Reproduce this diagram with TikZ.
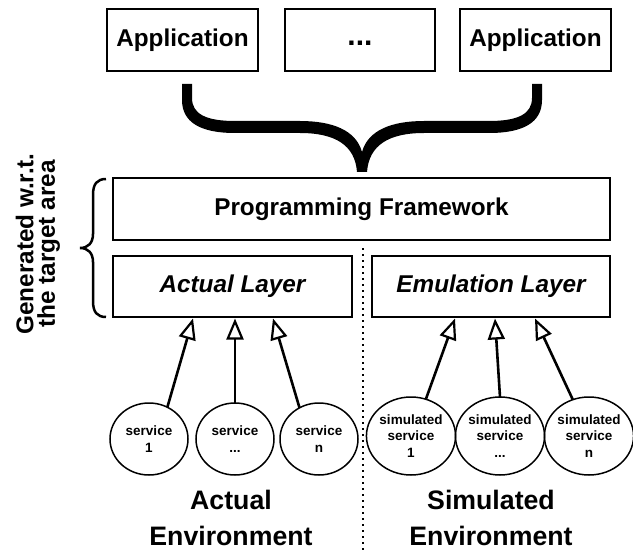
\documentclass[tikz,border=0pt]{standalone}
\usepackage{fontspec}
\setmainfont{Liberation Sans}
\usetikzlibrary{shapes.geometric,arrows.meta}
\begin{document}
\begin{tikzpicture}[x=1pt,y=-1pt,
  box/.style={draw,line width=2pt,rectangle,inner sep=0pt,outer sep=0pt,font=\fontsize{24.3}{28}\selectfont\bfseries},
  svc/.style={draw,ellipse,line width=1.5pt,inner sep=0pt,outer sep=0pt,align=center,font=\fontsize{13.5}{16.5}\selectfont\bfseries},
  svcA/.style={svc,minimum width=78pt,minimum height=72pt},
  svcS/.style={svc,minimum width=88pt,minimum height=78pt},
  arr/.style={line width=2.6pt,-{Triangle[open,length=21pt,width=17pt,line width=2.2pt]}},
  envlabel/.style={align=center,inner sep=0pt,font=\fontsize{26.7}{35.5}\selectfont\bfseries},
  sidelabel/.style={rotate=90,align=center,inner sep=0pt,font=\fontsize{24.3}{21.5}\selectfont\bfseries}]
\useasboundingbox (0,0) rectangle (633,551);

% top application boxes
\node[box,minimum width=151pt,minimum height=62pt] (app1) at (182.5,40) {Application};
\node[box,minimum width=150pt,minimum height=62pt] (dots) at (360,40) {\vphantom{Ap}\fontsize{30}{30}\selectfont ...};
\node[box,minimum width=151pt,minimum height=62pt] (app2) at (535.5,40) {Application};

% framework and layers
\node[box,minimum width=497pt,minimum height=62pt] (pf) at (361.5,209) {Programming Framework};
\node[box,minimum width=239pt,minimum height=61pt] (al) at (232.5,286.5) {\itshape Actual Layer};
\node[box,minimum width=238pt,minimum height=61pt] (el) at (491,286.5) {\itshape Emulation Layer};

% big brace
\fill (182,84) -- (182,100) .. controls (182,122) and (200,133) .. (235,133) -- (300,133)
  .. controls (335,133) and (355,145) .. (357,172) -- (367,172)
  .. controls (369,145) and (389,133) .. (424,133) -- (489,133)
  .. controls (524,133) and (542,122) .. (542,100) -- (542,84) -- (532,84) -- (532,98)
  .. controls (532,114) and (518,121) .. (489,121) -- (424,121)
  .. controls (392,121) and (368,130) .. (362,152)
  .. controls (356,130) and (332,121) .. (300,121) -- (235,121)
  .. controls (206,121) and (192,114) .. (192,98) -- (192,84) -- cycle;

% left brace
\draw[line width=2.5pt] (106,179) .. controls (97,179) and (93,184) .. (93,195) -- (93,234)
  .. controls (93,243) and (88,248) .. (80,248)
  .. controls (88,248) and (93,253) .. (93,262) -- (93,301)
  .. controls (93,312) and (97,317) .. (106,317);

\node[sidelabel] (gen) at (38,244) {Generated w.r.t.\\the target area};

% dotted separator
\coordinate (dtop) at (363,248);
\coordinate (dbot) at (363,551);
\draw[line width=1.5pt,dash pattern=on 1.5pt off 4.5pt] (dtop) -- (dbot);

% services
\node[svcA] (s1) at (149,439) {service\\1};
\node[svcA] (s2) at (235,439) {service\\...};
\node[svcA] (s3) at (319,439) {service\\n};
\node[svcS] (t1) at (411,436) {simulated\\service\\1};
\node[svcS] (t2) at (500,436) {simulated\\service\\...};
\node[svcS] (t3) at (589,436) {simulated\\service\\n};

% arrows
\draw[arr] (s1.60) -- ([xshift=-39.5pt,yshift=-1.5pt]al.south);
\draw[arr] (s2.north) -- ([xshift=2.5pt,yshift=-1.5pt]al.south);
\draw[arr] (s3.122) -- ([xshift=40.5pt,yshift=-1.5pt]al.south);
\draw[arr] (t1.68) -- ([xshift=-36pt,yshift=-1.5pt]el.south);
\draw[arr] (t2.north) -- ([xshift=4pt,yshift=-1.5pt]el.south);
\draw[arr] (t3.114) -- ([xshift=44pt,yshift=-1.5pt]el.south);

% environment labels
\node[envlabel] (actenv) at (231,518) {Actual\\Environment};
\node[envlabel] (simenv) at (491,518) {Simulated\\Environment};
\end{tikzpicture}
\end{document}
